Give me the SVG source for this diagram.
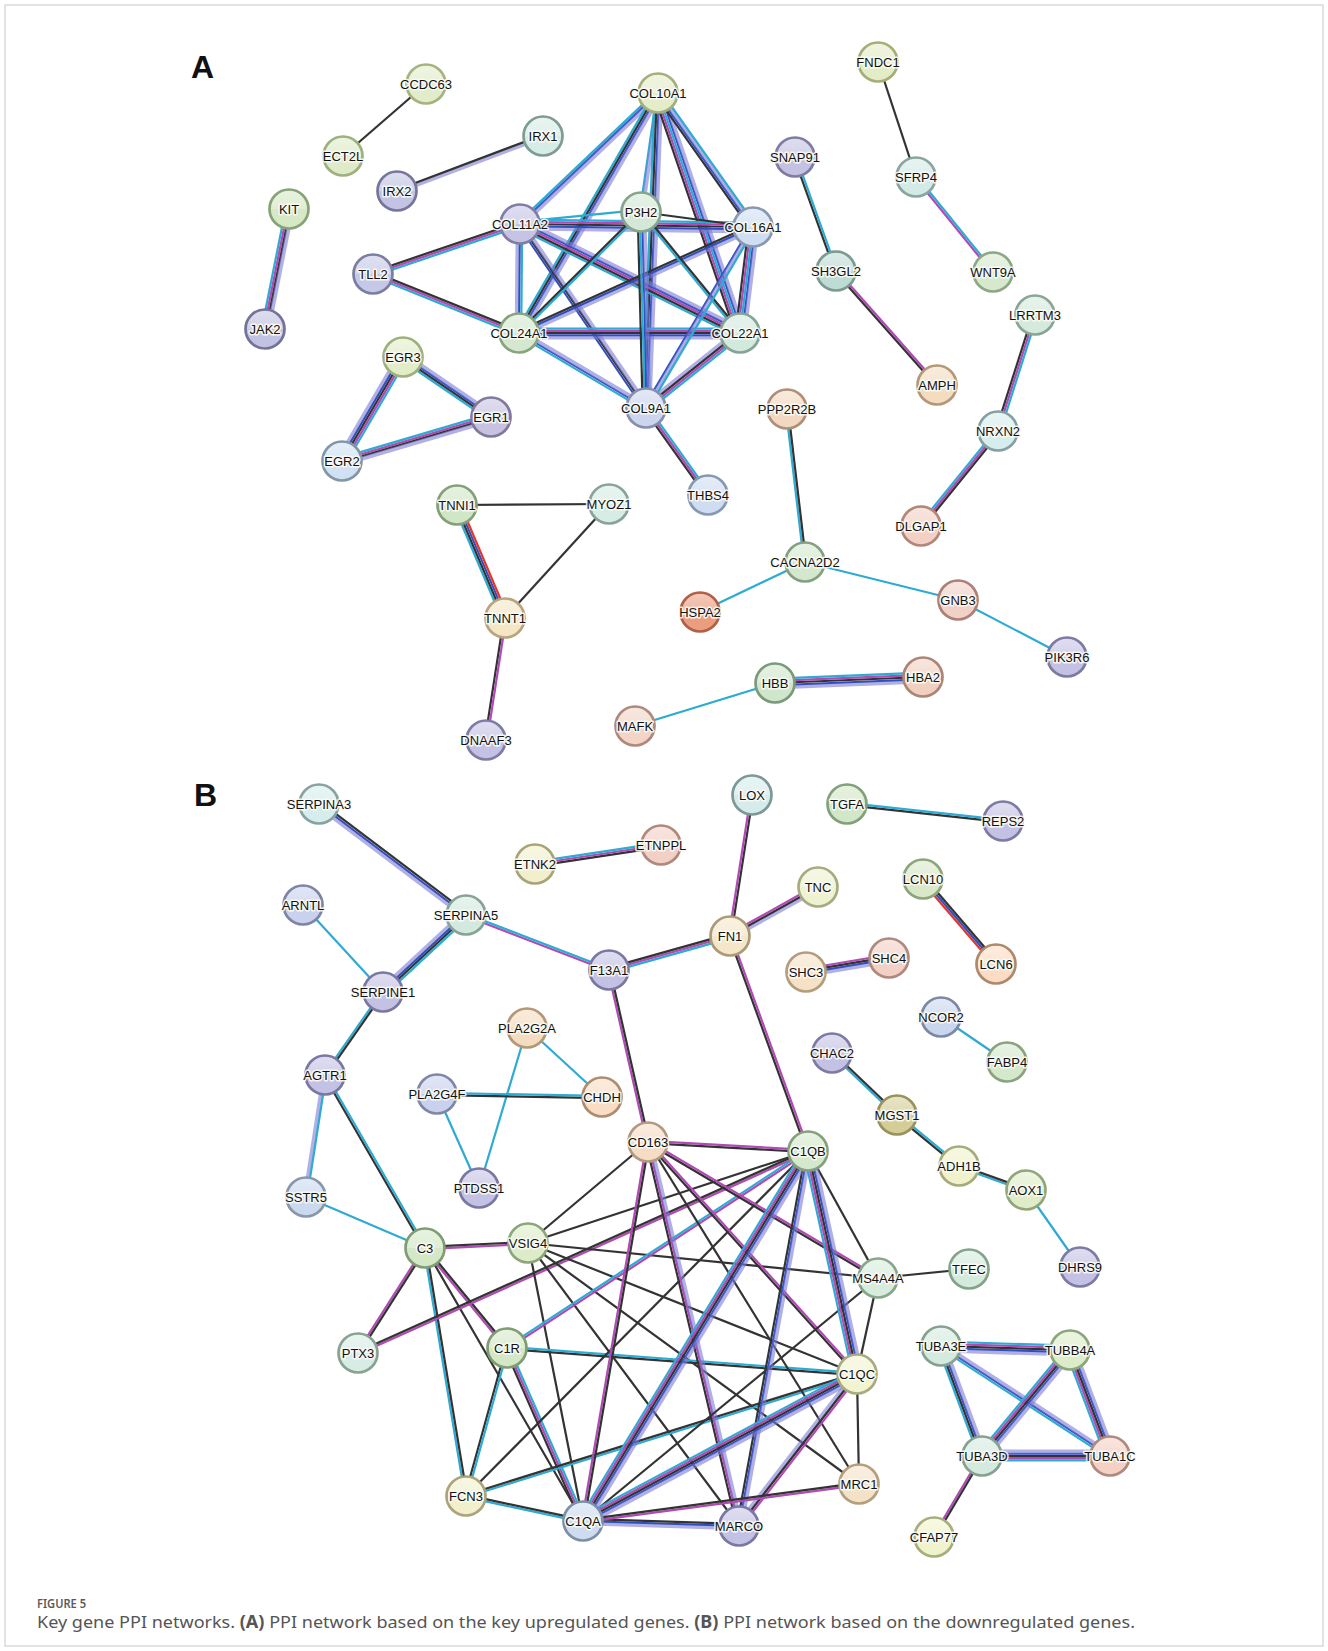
<svg xmlns="http://www.w3.org/2000/svg" width="1328" height="1651" viewBox="0 0 1328 1651">
<defs>
<linearGradient id="sh" x1="0" y1="0" x2="0" y2="1">
<stop offset="0" stop-color="#fff" stop-opacity="0.45"/>
<stop offset="0.5" stop-color="#fff" stop-opacity="0.25"/>
<stop offset="0.5" stop-color="#fff" stop-opacity="0"/>
<stop offset="1" stop-color="#fff" stop-opacity="0"/>
</linearGradient>
<style>
#edges line{fill:none}
.k{stroke:#333;stroke-width:2.2}
.c{stroke:#2eabd2;stroke-width:2.2}
.m{stroke:#b04ab4;stroke-width:2.2}
.b{stroke:#2f4ec0;stroke-width:2}
.l{stroke:#7b7bd4;stroke-width:4.2;stroke-opacity:.6}
.r{stroke:#e8342c;stroke-width:2.2}
.nd circle{stroke-width:2.7}
.nd .sh{fill:url(#sh);stroke:none}
.nd text{font-family:"Liberation Sans",Arial,sans-serif;font-size:13px;text-anchor:middle;fill:#111;stroke:#fbfbf6;stroke-width:3.2px;stroke-linejoin:round;paint-order:stroke;stroke-opacity:.9}
.pl{font-family:"Liberation Sans",Arial,sans-serif;font-size:32px;font-weight:bold;fill:#111}
.cap{font-family:"Noto Sans","Open Sans",sans-serif}
</style>
</defs>
<rect x="0" y="0" width="1328" height="1651" fill="#fff"/>
<rect x="5" y="5" width="1318" height="1641" fill="none" stroke="#c8c8c8" stroke-width="1"/>
<text class="pl" x="191" y="78">A</text>
<text class="pl" x="194" y="806">B</text>

<g id="edges">
<!-- Panel A -->
<line class="k" x1="426" y1="84" x2="343" y2="156"/>
<line class="l" x1="543" y1="136" x2="397" y2="191" transform="translate(0.39,1.03)"/>
<line class="k" x1="543" y1="136" x2="397" y2="191" transform="translate(-0.39,-1.03)"/>
<line class="c" x1="289" y1="209" x2="265" y2="329" transform="translate(-3.24,-0.65)"/>
<line class="m" x1="289" y1="209" x2="265" y2="329" transform="translate(-1.08,-0.22)"/>
<line class="k" x1="289" y1="209" x2="265" y2="329" transform="translate(1.08,0.22)"/>
<line class="l" x1="289" y1="209" x2="265" y2="329" transform="translate(3.24,0.65)"/>
<line class="c" x1="373" y1="274" x2="520" y2="224" transform="translate(0.71,2.08)"/>
<line class="m" x1="373" y1="274" x2="520" y2="224"/>
<line class="k" x1="373" y1="274" x2="520" y2="224" transform="translate(-0.71,-2.08)"/>
<line class="c" x1="373" y1="274" x2="519" y2="333" transform="translate(-0.82,2.04)"/>
<line class="m" x1="373" y1="274" x2="519" y2="333"/>
<line class="k" x1="373" y1="274" x2="519" y2="333" transform="translate(0.82,-2.04)"/>
<!-- collagen cluster -->
<line class="c" x1="658" y1="93" x2="520" y2="224" transform="translate(-1.51,-1.6)"/>
<line class="b" x1="658" y1="93" x2="520" y2="224"/>
<line class="l" x1="658" y1="93" x2="520" y2="224" transform="translate(1.51,1.6)"/>
<line class="c" x1="658" y1="93" x2="519" y2="333" transform="translate(-2.85,-1.65)"/>
<line class="k" x1="658" y1="93" x2="519" y2="333" transform="translate(-0.95,-0.55)"/>
<line class="b" x1="658" y1="93" x2="519" y2="333" transform="translate(0.95,0.55)"/>
<line class="l" x1="658" y1="93" x2="519" y2="333" transform="translate(2.85,1.65)"/>
<line class="c" x1="658" y1="93" x2="641" y2="212" transform="translate(-1.09,-0.16)"/>
<line class="l" x1="658" y1="93" x2="641" y2="212" transform="translate(1.09,0.16)"/>
<line class="c" x1="658" y1="93" x2="646" y2="408" transform="translate(-3.3,-0.12)"/>
<line class="k" x1="658" y1="93" x2="646" y2="408" transform="translate(-1.1,-0.04)"/>
<line class="b" x1="658" y1="93" x2="646" y2="408" transform="translate(1.1,0.04)"/>
<line class="l" x1="658" y1="93" x2="646" y2="408" transform="translate(3.3,0.12)"/>
<line class="k" x1="658" y1="93" x2="740" y2="333" transform="translate(-4.16,1.42)"/>
<line class="m" x1="658" y1="93" x2="740" y2="333" transform="translate(-2.08,0.71)"/>
<line class="c" x1="658" y1="93" x2="740" y2="333"/>
<line class="b" x1="658" y1="93" x2="740" y2="333" transform="translate(2.08,-0.71)"/>
<line class="l" x1="658" y1="93" x2="740" y2="333" transform="translate(4.16,-1.42)"/>
<line class="k" x1="658" y1="93" x2="753" y2="227" transform="translate(-2.69,1.91)"/>
<line class="b" x1="658" y1="93" x2="753" y2="227" transform="translate(-0.9,0.64)"/>
<line class="l" x1="658" y1="93" x2="753" y2="227" transform="translate(0.9,-0.64)"/>
<line class="c" x1="658" y1="93" x2="753" y2="227" transform="translate(2.69,-1.91)"/>
<line class="c" x1="520" y1="224" x2="641" y2="212" transform="translate(-0.2,-2.2)"/>
<line class="l" x1="520" y1="224" x2="753" y2="227" transform="translate(-0.06,4.4)"/>
<line class="b" x1="520" y1="224" x2="753" y2="227" transform="translate(-0.03,2.2)"/>
<line class="k" x1="520" y1="224" x2="753" y2="227"/>
<line class="m" x1="520" y1="224" x2="753" y2="227" transform="translate(0.03,-2.2)"/>
<line class="c" x1="520" y1="224" x2="753" y2="227" transform="translate(0.06,-4.4)"/>
<line class="k" x1="641" y1="212" x2="753" y2="227"/>
<line class="l" x1="520" y1="224" x2="519" y2="333" transform="translate(-2.2,0)"/>
<line class="b" x1="520" y1="224" x2="519" y2="333"/>
<line class="c" x1="520" y1="224" x2="519" y2="333" transform="translate(2.2,0)"/>
<line class="c" x1="520" y1="224" x2="740" y2="333" transform="translate(-1.96,3.94)"/>
<line class="k" x1="520" y1="224" x2="740" y2="333" transform="translate(-0.98,1.97)"/>
<line class="m" x1="520" y1="224" x2="740" y2="333"/>
<line class="b" x1="520" y1="224" x2="740" y2="333" transform="translate(0.98,-1.97)"/>
<line class="l" x1="520" y1="224" x2="740" y2="333" transform="translate(1.96,-3.94)"/>
<line class="b" x1="520" y1="224" x2="646" y2="408" transform="translate(-1.82,1.24)"/>
<line class="k" x1="520" y1="224" x2="646" y2="408"/>
<line class="l" x1="520" y1="224" x2="646" y2="408" transform="translate(1.82,-1.24)"/>
<line class="c" x1="519" y1="333" x2="641" y2="212" transform="translate(0.78,0.78)"/>
<line class="k" x1="519" y1="333" x2="641" y2="212" transform="translate(-0.78,-0.78)"/>
<line class="l" x1="519" y1="333" x2="753" y2="227" transform="translate(0.91,2)"/>
<line class="b" x1="519" y1="333" x2="753" y2="227"/>
<line class="k" x1="519" y1="333" x2="753" y2="227" transform="translate(-0.91,-2)"/>
<line class="l" x1="519" y1="333" x2="740" y2="333" transform="translate(0,4.4)"/>
<line class="b" x1="519" y1="333" x2="740" y2="333" transform="translate(0,2.2)"/>
<line class="k" x1="519" y1="333" x2="740" y2="333"/>
<line class="m" x1="519" y1="333" x2="740" y2="333" transform="translate(0,-2.2)"/>
<line class="c" x1="519" y1="333" x2="740" y2="333" transform="translate(0,-4.4)"/>
<line class="c" x1="519" y1="333" x2="646" y2="408" transform="translate(-1.12,1.89)"/>
<line class="b" x1="519" y1="333" x2="646" y2="408"/>
<line class="l" x1="519" y1="333" x2="646" y2="408" transform="translate(1.12,-1.89)"/>
<line class="k" x1="641" y1="212" x2="646" y2="408" transform="translate(-3.3,0.09)"/>
<line class="c" x1="641" y1="212" x2="646" y2="408" transform="translate(-1.1,0.03)"/>
<line class="b" x1="641" y1="212" x2="646" y2="408" transform="translate(1.1,-0.03)"/>
<line class="l" x1="641" y1="212" x2="646" y2="408" transform="translate(3.3,-0.09)"/>
<line class="c" x1="641" y1="212" x2="740" y2="333" transform="translate(-0.85,0.7)"/>
<line class="k" x1="641" y1="212" x2="740" y2="333" transform="translate(0.85,-0.7)"/>
<line class="k" x1="753" y1="227" x2="740" y2="333" transform="translate(-4.36,-0.54)"/>
<line class="m" x1="753" y1="227" x2="740" y2="333" transform="translate(-2.18,-0.27)"/>
<line class="c" x1="753" y1="227" x2="740" y2="333"/>
<line class="b" x1="753" y1="227" x2="740" y2="333" transform="translate(2.18,0.27)"/>
<line class="l" x1="753" y1="227" x2="740" y2="333" transform="translate(4.36,0.54)"/>
<line class="b" x1="753" y1="227" x2="646" y2="408" transform="translate(-1.89,-1.12)"/>
<line class="l" x1="753" y1="227" x2="646" y2="408"/>
<line class="c" x1="753" y1="227" x2="646" y2="408" transform="translate(1.89,1.12)"/>
<line class="l" x1="740" y1="333" x2="646" y2="408" transform="translate(-2.06,-2.58)"/>
<line class="k" x1="740" y1="333" x2="646" y2="408" transform="translate(-0.69,-0.86)"/>
<line class="m" x1="740" y1="333" x2="646" y2="408" transform="translate(0.69,0.86)"/>
<line class="c" x1="740" y1="333" x2="646" y2="408" transform="translate(2.06,2.58)"/>
<line class="k" x1="646" y1="408" x2="708" y2="495" transform="translate(-1.79,1.28)"/>
<line class="m" x1="646" y1="408" x2="708" y2="495"/>
<line class="c" x1="646" y1="408" x2="708" y2="495" transform="translate(1.79,-1.28)"/>
<!-- right side A -->
<line class="k" x1="878" y1="62" x2="916" y2="177"/>
<line class="m" x1="916" y1="177" x2="993" y2="272" transform="translate(-0.85,0.69)"/>
<line class="c" x1="916" y1="177" x2="993" y2="272" transform="translate(0.85,-0.69)"/>
<line class="k" x1="795" y1="157" x2="836" y2="271" transform="translate(-1.04,0.37)"/>
<line class="c" x1="795" y1="157" x2="836" y2="271" transform="translate(1.04,-0.37)"/>
<line class="k" x1="836" y1="271" x2="937" y2="385" transform="translate(-0.82,0.73)"/>
<line class="m" x1="836" y1="271" x2="937" y2="385" transform="translate(0.82,-0.73)"/>
<line class="k" x1="1035" y1="315" x2="998" y2="431" transform="translate(-2.1,-0.67)"/>
<line class="m" x1="1035" y1="315" x2="998" y2="431"/>
<line class="c" x1="1035" y1="315" x2="998" y2="431" transform="translate(2.1,0.67)"/>
<line class="c" x1="998" y1="431" x2="921" y2="526" transform="translate(-1.71,-1.39)"/>
<line class="m" x1="998" y1="431" x2="921" y2="526"/>
<line class="k" x1="998" y1="431" x2="921" y2="526" transform="translate(1.71,1.39)"/>
<line class="c" x1="787" y1="409" x2="805" y2="562" transform="translate(-1.09,0.13)"/>
<line class="k" x1="787" y1="409" x2="805" y2="562" transform="translate(1.09,-0.13)"/>
<!-- EGR -->
<line class="c" x1="403" y1="357" x2="491" y2="417" transform="translate(-1.86,2.73)"/>
<line class="k" x1="403" y1="357" x2="491" y2="417" transform="translate(-0.62,0.91)"/>
<line class="b" x1="403" y1="357" x2="491" y2="417" transform="translate(0.62,-0.91)"/>
<line class="l" x1="403" y1="357" x2="491" y2="417" transform="translate(1.86,-2.73)"/>
<line class="l" x1="403" y1="357" x2="342" y2="461" transform="translate(-3.8,-2.22)"/>
<line class="b" x1="403" y1="357" x2="342" y2="461" transform="translate(-1.9,-1.11)"/>
<line class="k" x1="403" y1="357" x2="342" y2="461"/>
<line class="m" x1="403" y1="357" x2="342" y2="461" transform="translate(1.9,1.11)"/>
<line class="c" x1="403" y1="357" x2="342" y2="461" transform="translate(3.8,2.22)"/>
<line class="c" x1="491" y1="417" x2="342" y2="461" transform="translate(-0.93,-3.17)"/>
<line class="m" x1="491" y1="417" x2="342" y2="461" transform="translate(-0.31,-1.06)"/>
<line class="k" x1="491" y1="417" x2="342" y2="461" transform="translate(0.31,1.06)"/>
<line class="l" x1="491" y1="417" x2="342" y2="461" transform="translate(0.93,3.17)"/>
<!-- TNN -->
<line class="k" x1="457" y1="505" x2="609" y2="504"/>
<line class="c" x1="457" y1="505" x2="505" y2="618" transform="translate(-3.03,1.29)"/>
<line class="k" x1="457" y1="505" x2="505" y2="618" transform="translate(-1.01,0.43)"/>
<line class="b" x1="457" y1="505" x2="505" y2="618" transform="translate(1.01,-0.43)"/>
<line class="r" x1="457" y1="505" x2="505" y2="618" transform="translate(3.03,-1.29)"/>
<line class="k" x1="609" y1="504" x2="505" y2="618"/>
<line class="k" x1="505" y1="618" x2="486" y2="740" transform="translate(-1.09,-0.17)"/>
<line class="m" x1="505" y1="618" x2="486" y2="740" transform="translate(1.09,0.17)"/>
<!-- CACNA2D2 etc -->
<line class="c" x1="805" y1="562" x2="700" y2="612"/>
<line class="c" x1="805" y1="562" x2="958" y2="600"/>
<line class="c" x1="958" y1="600" x2="1067" y2="657"/>
<line class="l" x1="775" y1="683" x2="923" y2="677" transform="translate(0.18,4.4)"/>
<line class="b" x1="775" y1="683" x2="923" y2="677" transform="translate(0.09,2.2)"/>
<line class="k" x1="775" y1="683" x2="923" y2="677"/>
<line class="m" x1="775" y1="683" x2="923" y2="677" transform="translate(-0.09,-2.2)"/>
<line class="c" x1="775" y1="683" x2="923" y2="677" transform="translate(-0.18,-4.4)"/>
<line class="c" x1="635" y1="726" x2="775" y2="683"/>

<!-- Panel B -->
<line class="l" x1="319" y1="804" x2="466" y2="915" transform="translate(-1.33,1.76)"/>
<line class="b" x1="319" y1="804" x2="466" y2="915"/>
<line class="k" x1="319" y1="804" x2="466" y2="915" transform="translate(1.33,-1.76)"/>
<line class="k" x1="535" y1="864" x2="661" y2="845" transform="translate(0.33,2.18)"/>
<line class="m" x1="535" y1="864" x2="661" y2="845"/>
<line class="c" x1="535" y1="864" x2="661" y2="845" transform="translate(-0.33,-2.18)"/>
<line class="c" x1="303" y1="905" x2="383" y2="992"/>
<line class="l" x1="466" y1="915" x2="383" y2="992" transform="translate(-2.25,-2.42)"/>
<line class="b" x1="466" y1="915" x2="383" y2="992" transform="translate(-0.75,-0.81)"/>
<line class="k" x1="466" y1="915" x2="383" y2="992" transform="translate(0.75,0.81)"/>
<line class="c" x1="466" y1="915" x2="383" y2="992" transform="translate(2.25,2.42)"/>
<line class="m" x1="466" y1="915" x2="609" y2="970" transform="translate(-0.4,1.03)"/>
<line class="c" x1="466" y1="915" x2="609" y2="970" transform="translate(0.4,-1.03)"/>
<line class="c" x1="609" y1="970" x2="730" y2="936" transform="translate(0.59,2.12)"/>
<line class="m" x1="609" y1="970" x2="730" y2="936"/>
<line class="k" x1="609" y1="970" x2="730" y2="936" transform="translate(-0.59,-2.12)"/>
<line class="k" x1="730" y1="936" x2="752" y2="795" transform="translate(1.09,0.17)"/>
<line class="m" x1="730" y1="936" x2="752" y2="795" transform="translate(-1.09,-0.17)"/>
<line class="l" x1="730" y1="936" x2="818" y2="887" transform="translate(1.07,1.92)"/>
<line class="k" x1="730" y1="936" x2="818" y2="887"/>
<line class="m" x1="730" y1="936" x2="818" y2="887" transform="translate(-1.07,-1.92)"/>
<line class="k" x1="730" y1="936" x2="808" y2="1151" transform="translate(-1.03,0.37)"/>
<line class="m" x1="730" y1="936" x2="808" y2="1151" transform="translate(1.03,-0.37)"/>
<line class="m" x1="609" y1="970" x2="648" y2="1142" transform="translate(-1.07,0.24)"/>
<line class="k" x1="609" y1="970" x2="648" y2="1142" transform="translate(1.07,-0.24)"/>
<line class="k" x1="847" y1="804" x2="1003" y2="821" transform="translate(-0.12,1.09)"/>
<line class="c" x1="847" y1="804" x2="1003" y2="821" transform="translate(0.12,-1.09)"/>
<line class="r" x1="923" y1="879" x2="996" y2="964" transform="translate(-1.67,1.43)"/>
<line class="b" x1="923" y1="879" x2="996" y2="964"/>
<line class="k" x1="923" y1="879" x2="996" y2="964" transform="translate(1.67,-1.43)"/>
<line class="l" x1="806" y1="972" x2="889" y2="958" transform="translate(0.55,3.26)"/>
<line class="b" x1="806" y1="972" x2="889" y2="958" transform="translate(0.18,1.09)"/>
<line class="k" x1="806" y1="972" x2="889" y2="958" transform="translate(-0.18,-1.09)"/>
<line class="m" x1="806" y1="972" x2="889" y2="958" transform="translate(-0.55,-3.26)"/>
<line class="c" x1="941" y1="1017" x2="1007" y2="1062"/>
<line class="c" x1="832" y1="1053" x2="897" y2="1115" transform="translate(-0.76,0.8)"/>
<line class="k" x1="832" y1="1053" x2="897" y2="1115" transform="translate(0.76,-0.8)"/>
<line class="k" x1="897" y1="1115" x2="959" y2="1166" transform="translate(-0.7,0.85)"/>
<line class="c" x1="897" y1="1115" x2="959" y2="1166" transform="translate(0.7,-0.85)"/>
<line class="c" x1="959" y1="1166" x2="1026" y2="1190" transform="translate(-0.37,1.04)"/>
<line class="k" x1="959" y1="1166" x2="1026" y2="1190" transform="translate(0.37,-1.04)"/>
<line class="c" x1="1026" y1="1190" x2="1080" y2="1267"/>
<line class="c" x1="383" y1="992" x2="325" y2="1075" transform="translate(-0.9,-0.63)"/>
<line class="k" x1="383" y1="992" x2="325" y2="1075" transform="translate(0.9,0.63)"/>
<line class="l" x1="325" y1="1075" x2="306" y2="1197" transform="translate(-1.09,-0.17)"/>
<line class="c" x1="325" y1="1075" x2="306" y2="1197" transform="translate(1.09,0.17)"/>
<line class="k" x1="325" y1="1075" x2="425" y2="1248" transform="translate(-0.95,0.55)"/>
<line class="c" x1="325" y1="1075" x2="425" y2="1248" transform="translate(0.95,-0.55)"/>
<line class="c" x1="306" y1="1197" x2="425" y2="1248"/>
<line class="c" x1="527" y1="1028" x2="602" y2="1097"/>
<line class="c" x1="527" y1="1028" x2="479" y2="1188"/>
<line class="k" x1="437" y1="1094" x2="602" y2="1097" transform="translate(0,1.1)"/>
<line class="c" x1="437" y1="1094" x2="602" y2="1097" transform="translate(0,-1.1)"/>
<line class="c" x1="437" y1="1094" x2="479" y2="1188"/>
<!-- complement cluster -->
<line class="m" x1="425" y1="1248" x2="528" y2="1243" transform="translate(0.05,1.1)"/>
<line class="k" x1="425" y1="1248" x2="528" y2="1243" transform="translate(-0.05,-1.1)"/>
<line class="m" x1="425" y1="1248" x2="358" y2="1353" transform="translate(-0.93,-0.59)"/>
<line class="k" x1="425" y1="1248" x2="358" y2="1353" transform="translate(0.93,0.59)"/>
<line class="m" x1="425" y1="1248" x2="507" y2="1348" transform="translate(-0.85,0.7)"/>
<line class="k" x1="425" y1="1248" x2="507" y2="1348" transform="translate(0.85,-0.7)"/>
<line class="c" x1="425" y1="1248" x2="466" y2="1496" transform="translate(-1.09,0.18)"/>
<line class="k" x1="425" y1="1248" x2="466" y2="1496" transform="translate(1.09,-0.18)"/>
<line class="k" x1="425" y1="1248" x2="583" y2="1521"/>
<line class="m" x1="358" y1="1353" x2="808" y2="1151" transform="translate(0.45,1)"/>
<line class="k" x1="358" y1="1353" x2="808" y2="1151" transform="translate(-0.45,-1)"/>
<line class="k" x1="528" y1="1243" x2="648" y2="1142"/>
<line class="k" x1="528" y1="1243" x2="808" y2="1151"/>
<line class="k" x1="528" y1="1243" x2="878" y2="1278"/>
<line class="k" x1="528" y1="1243" x2="857" y2="1374"/>
<line class="k" x1="528" y1="1243" x2="859" y2="1484"/>
<line class="k" x1="528" y1="1243" x2="739" y2="1526"/>
<line class="k" x1="528" y1="1243" x2="583" y2="1521"/>
<line class="m" x1="507" y1="1348" x2="808" y2="1151" transform="translate(0.6,0.92)"/>
<line class="c" x1="507" y1="1348" x2="808" y2="1151" transform="translate(-0.6,-0.92)"/>
<line class="k" x1="507" y1="1348" x2="857" y2="1374" transform="translate(-0.08,1.1)"/>
<line class="c" x1="507" y1="1348" x2="857" y2="1374" transform="translate(0.08,-1.1)"/>
<line class="k" x1="507" y1="1348" x2="466" y2="1496" transform="translate(-1.06,-0.29)"/>
<line class="c" x1="507" y1="1348" x2="466" y2="1496" transform="translate(1.06,0.29)"/>
<line class="k" x1="507" y1="1348" x2="583" y2="1521" transform="translate(-2.01,0.88)"/>
<line class="m" x1="507" y1="1348" x2="583" y2="1521"/>
<line class="c" x1="507" y1="1348" x2="583" y2="1521" transform="translate(2.01,-0.88)"/>
<line class="c" x1="466" y1="1496" x2="583" y2="1521" transform="translate(-0.23,1.08)"/>
<line class="k" x1="466" y1="1496" x2="583" y2="1521" transform="translate(0.23,-1.08)"/>
<line class="k" x1="466" y1="1496" x2="808" y2="1151"/>
<line class="c" x1="466" y1="1496" x2="857" y2="1374" transform="translate(0.33,1.05)"/>
<line class="k" x1="466" y1="1496" x2="857" y2="1374" transform="translate(-0.33,-1.05)"/>
<line class="k" x1="648" y1="1142" x2="808" y2="1151" transform="translate(-0.06,1.1)"/>
<line class="m" x1="648" y1="1142" x2="808" y2="1151" transform="translate(0.06,-1.1)"/>
<line class="k" x1="648" y1="1142" x2="878" y2="1278" transform="translate(-0.56,0.95)"/>
<line class="m" x1="648" y1="1142" x2="878" y2="1278" transform="translate(0.56,-0.95)"/>
<line class="k" x1="648" y1="1142" x2="857" y2="1374" transform="translate(-0.82,0.74)"/>
<line class="m" x1="648" y1="1142" x2="857" y2="1374" transform="translate(0.82,-0.74)"/>
<line class="k" x1="648" y1="1142" x2="859" y2="1484"/>
<line class="k" x1="648" y1="1142" x2="739" y2="1526" transform="translate(-2.14,0.51)"/>
<line class="m" x1="648" y1="1142" x2="739" y2="1526"/>
<line class="l" x1="648" y1="1142" x2="739" y2="1526" transform="translate(2.14,-0.51)"/>
<line class="m" x1="648" y1="1142" x2="583" y2="1521" transform="translate(-1.09,-0.19)"/>
<line class="k" x1="648" y1="1142" x2="583" y2="1521" transform="translate(1.09,0.19)"/>
<line class="k" x1="878" y1="1278" x2="808" y2="1151"/>
<line class="k" x1="878" y1="1278" x2="969" y2="1269"/>
<line class="k" x1="878" y1="1278" x2="857" y2="1374"/>
<line class="k" x1="878" y1="1278" x2="583" y2="1521"/>
<line class="c" x1="808" y1="1151" x2="857" y2="1374" transform="translate(-4.3,0.94)"/>
<line class="m" x1="808" y1="1151" x2="857" y2="1374" transform="translate(-2.15,0.47)"/>
<line class="k" x1="808" y1="1151" x2="857" y2="1374"/>
<line class="b" x1="808" y1="1151" x2="857" y2="1374" transform="translate(2.15,-0.47)"/>
<line class="l" x1="808" y1="1151" x2="857" y2="1374" transform="translate(4.3,-0.94)"/>
<line class="k" x1="808" y1="1151" x2="739" y2="1526" transform="translate(-2.16,-0.4)"/>
<line class="b" x1="808" y1="1151" x2="739" y2="1526"/>
<line class="l" x1="808" y1="1151" x2="739" y2="1526" transform="translate(2.16,0.4)"/>
<line class="c" x1="808" y1="1151" x2="583" y2="1521" transform="translate(-3.76,-2.28)"/>
<line class="m" x1="808" y1="1151" x2="583" y2="1521" transform="translate(-1.88,-1.14)"/>
<line class="k" x1="808" y1="1151" x2="583" y2="1521"/>
<line class="b" x1="808" y1="1151" x2="583" y2="1521" transform="translate(1.88,1.14)"/>
<line class="l" x1="808" y1="1151" x2="583" y2="1521" transform="translate(3.76,2.28)"/>
<line class="k" x1="857" y1="1374" x2="859" y2="1484"/>
<line class="l" x1="857" y1="1374" x2="739" y2="1526" transform="translate(-1.74,-1.35)"/>
<line class="k" x1="857" y1="1374" x2="739" y2="1526"/>
<line class="m" x1="857" y1="1374" x2="739" y2="1526" transform="translate(1.74,1.35)"/>
<line class="c" x1="857" y1="1374" x2="583" y2="1521" transform="translate(-2.08,-3.88)"/>
<line class="m" x1="857" y1="1374" x2="583" y2="1521" transform="translate(-1.04,-1.94)"/>
<line class="k" x1="857" y1="1374" x2="583" y2="1521"/>
<line class="b" x1="857" y1="1374" x2="583" y2="1521" transform="translate(1.04,1.94)"/>
<line class="l" x1="857" y1="1374" x2="583" y2="1521" transform="translate(2.08,3.88)"/>
<line class="l" x1="583" y1="1521" x2="739" y2="1526" transform="translate(-0.07,2.2)"/>
<line class="b" x1="583" y1="1521" x2="739" y2="1526"/>
<line class="k" x1="583" y1="1521" x2="739" y2="1526" transform="translate(0.07,-2.2)"/>
<line class="m" x1="583" y1="1521" x2="859" y2="1484" transform="translate(0.15,1.09)"/>
<line class="k" x1="583" y1="1521" x2="859" y2="1484" transform="translate(-0.15,-1.09)"/>
<!-- tubulin -->
<line class="l" x1="941" y1="1346" x2="1070" y2="1350" transform="translate(-0.14,4.4)"/>
<line class="b" x1="941" y1="1346" x2="1070" y2="1350" transform="translate(-0.07,2.2)"/>
<line class="k" x1="941" y1="1346" x2="1070" y2="1350"/>
<line class="m" x1="941" y1="1346" x2="1070" y2="1350" transform="translate(0.07,-2.2)"/>
<line class="c" x1="941" y1="1346" x2="1070" y2="1350" transform="translate(0.14,-4.4)"/>
<line class="c" x1="941" y1="1346" x2="982" y2="1456" transform="translate(-3.09,1.16)"/>
<line class="k" x1="941" y1="1346" x2="982" y2="1456" transform="translate(-1.03,0.39)"/>
<line class="b" x1="941" y1="1346" x2="982" y2="1456" transform="translate(1.03,-0.39)"/>
<line class="l" x1="941" y1="1346" x2="982" y2="1456" transform="translate(3.09,-1.16)"/>
<line class="c" x1="941" y1="1346" x2="1110" y2="1456" transform="translate(-1.2,1.84)"/>
<line class="b" x1="941" y1="1346" x2="1110" y2="1456"/>
<line class="l" x1="941" y1="1346" x2="1110" y2="1456" transform="translate(1.2,-1.84)"/>
<line class="c" x1="1070" y1="1350" x2="982" y2="1456" transform="translate(-3.38,-2.82)"/>
<line class="m" x1="1070" y1="1350" x2="982" y2="1456" transform="translate(-1.69,-1.41)"/>
<line class="k" x1="1070" y1="1350" x2="982" y2="1456"/>
<line class="b" x1="1070" y1="1350" x2="982" y2="1456" transform="translate(1.69,1.41)"/>
<line class="l" x1="1070" y1="1350" x2="982" y2="1456" transform="translate(3.38,2.82)"/>
<line class="c" x1="1070" y1="1350" x2="1110" y2="1456" transform="translate(-4.12,1.56)"/>
<line class="m" x1="1070" y1="1350" x2="1110" y2="1456" transform="translate(-2.06,0.78)"/>
<line class="k" x1="1070" y1="1350" x2="1110" y2="1456"/>
<line class="b" x1="1070" y1="1350" x2="1110" y2="1456" transform="translate(2.06,-0.78)"/>
<line class="l" x1="1070" y1="1350" x2="1110" y2="1456" transform="translate(4.12,-1.56)"/>
<line class="c" x1="982" y1="1456" x2="1110" y2="1456" transform="translate(0,4.4)"/>
<line class="m" x1="982" y1="1456" x2="1110" y2="1456" transform="translate(0,2.2)"/>
<line class="k" x1="982" y1="1456" x2="1110" y2="1456"/>
<line class="b" x1="982" y1="1456" x2="1110" y2="1456" transform="translate(0,-2.2)"/>
<line class="l" x1="982" y1="1456" x2="1110" y2="1456" transform="translate(0,-4.4)"/>
<line class="m" x1="982" y1="1456" x2="934" y2="1537" transform="translate(-0.95,-0.56)"/>
<line class="k" x1="982" y1="1456" x2="934" y2="1537" transform="translate(0.95,0.56)"/>
</g>

<g id="nodes">
<!-- Panel A -->
<g id="n-CCDC63" class="nd" transform="translate(426 84)"><circle r="19.5" fill="#e2ecca" stroke="#a5b37f"/><circle class="sh" r="18"/><text y="4.6">CCDC63</text></g>
<g id="n-ECT2L" class="nd" transform="translate(343 156)"><circle r="19.5" fill="#dfeac8" stroke="#9db07e"/><circle class="sh" r="18"/><text y="4.6">ECT2L</text></g>
<g id="n-IRX1" class="nd" transform="translate(543 136)"><circle r="19.5" fill="#d6ece6" stroke="#7f9c92"/><circle class="sh" r="18"/><text y="4.6">IRX1</text></g>
<g id="n-IRX2" class="nd" transform="translate(397 191)"><circle r="19.5" fill="#c3c3e3" stroke="#76769c"/><circle class="sh" r="18"/><text y="4.6">IRX2</text></g>
<g id="n-KIT" class="nd" transform="translate(289 209)"><circle r="19.5" fill="#d6e8c6" stroke="#87a277"/><circle class="sh" r="18"/><text y="4.6">KIT</text></g>
<g id="n-JAK2" class="nd" transform="translate(265 329)"><circle r="19.5" fill="#c2c2e2" stroke="#737399"/><circle class="sh" r="18"/><text y="4.6">JAK2</text></g>
<g id="n-TLL2" class="nd" transform="translate(373 274)"><circle r="19.5" fill="#c5c8e6" stroke="#7a7ea2"/><circle class="sh" r="18"/><text y="4.6">TLL2</text></g>
<g id="n-COL11A2" class="nd" transform="translate(520 224)"><circle r="19.5" fill="#c6c4e4" stroke="#807ea6"/><circle class="sh" r="18"/><text y="4.6">COL11A2</text></g>
<g id="n-COL24A1" class="nd" transform="translate(519 333)"><circle r="19.5" fill="#d3e8cf" stroke="#88a47e"/><circle class="sh" r="18"/><text y="4.6">COL24A1</text></g>
<g id="n-COL10A1" class="nd" transform="translate(658 93)"><circle r="19.5" fill="#e4ecc9" stroke="#a5af7b"/><circle class="sh" r="18"/><text y="4.6">COL10A1</text></g>
<g id="n-P3H2" class="nd" transform="translate(641 212)"><circle r="19.5" fill="#d3e8d6" stroke="#86a38b"/><circle class="sh" r="18"/><text y="4.6">P3H2</text></g>
<g id="n-COL16A1" class="nd" transform="translate(753 227)"><circle r="19.5" fill="#cfdef2" stroke="#8897b2"/><circle class="sh" r="18"/><text y="4.6">COL16A1</text></g>
<g id="n-COL22A1" class="nd" transform="translate(740 333)"><circle r="19.5" fill="#d2e9dd" stroke="#86a493"/><circle class="sh" r="18"/><text y="4.6">COL22A1</text></g>
<g id="n-COL9A1" class="nd" transform="translate(646 408)"><circle r="19.5" fill="#cdd5ee" stroke="#8590ae"/><circle class="sh" r="18"/><text y="4.6">COL9A1</text></g>
<g id="n-FNDC1" class="nd" transform="translate(878 62)"><circle r="19.5" fill="#e4ecc6" stroke="#a4ae78"/><circle class="sh" r="18"/><text y="4.6">FNDC1</text></g>
<g id="n-SNAP91" class="nd" transform="translate(795 157)"><circle r="19.5" fill="#c4c2e2" stroke="#7f7ca4"/><circle class="sh" r="18"/><text y="4.6">SNAP91</text></g>
<g id="n-SFRP4" class="nd" transform="translate(916 177)"><circle r="19.5" fill="#d3eae6" stroke="#8aa49f"/><circle class="sh" r="18"/><text y="4.6">SFRP4</text></g>
<g id="n-SH3GL2" class="nd" transform="translate(836 271)"><circle r="19.5" fill="#bedcd4" stroke="#7b9a90"/><circle class="sh" r="18"/><text y="4.6">SH3GL2</text></g>
<g id="n-WNT9A" class="nd" transform="translate(993 272)"><circle r="19.5" fill="#d6e9cd" stroke="#8ea784"/><circle class="sh" r="18"/><text y="4.6">WNT9A</text></g>
<g id="n-LRRTM3" class="nd" transform="translate(1035 315)"><circle r="19.5" fill="#d4eadd" stroke="#8aa596"/><circle class="sh" r="18"/><text y="4.6">LRRTM3</text></g>
<g id="n-AMPH" class="nd" transform="translate(937 385)"><circle r="19.5" fill="#f4dcc0" stroke="#b59877"/><circle class="sh" r="18"/><text y="4.6">AMPH</text></g>
<g id="n-NRXN2" class="nd" transform="translate(998 431)"><circle r="19.5" fill="#d6eded" stroke="#84a0a2"/><circle class="sh" r="18"/><text y="4.6">NRXN2</text></g>
<g id="n-PPP2R2B" class="nd" transform="translate(787 409)"><circle r="19.5" fill="#f2d8c0" stroke="#ae8f78"/><circle class="sh" r="18"/><text y="4.6">PPP2R2B</text></g>
<g id="n-EGR3" class="nd" transform="translate(403 357)"><circle r="19.5" fill="#e2ecc8" stroke="#9fb07d"/><circle class="sh" r="18"/><text y="4.6">EGR3</text></g>
<g id="n-EGR1" class="nd" transform="translate(491 417)"><circle r="19.5" fill="#c8c2e2" stroke="#82789d"/><circle class="sh" r="18"/><text y="4.6">EGR1</text></g>
<g id="n-EGR2" class="nd" transform="translate(342 461)"><circle r="19.5" fill="#cfe1f2" stroke="#8396a8"/><circle class="sh" r="18"/><text y="4.6">EGR2</text></g>
<g id="n-TNNI1" class="nd" transform="translate(457 505)"><circle r="19.5" fill="#d1e6c7" stroke="#84a078"/><circle class="sh" r="18"/><text y="4.6">TNNI1</text></g>
<g id="n-MYOZ1" class="nd" transform="translate(609 504)"><circle r="19.5" fill="#d6ece4" stroke="#89a399"/><circle class="sh" r="18"/><text y="4.6">MYOZ1</text></g>
<g id="n-TNNT1" class="nd" transform="translate(505 618)"><circle r="19.5" fill="#f5e6c6" stroke="#b8a47e"/><circle class="sh" r="18"/><text y="4.6">TNNT1</text></g>
<g id="n-DNAAF3" class="nd" transform="translate(486 740)"><circle r="19.5" fill="#c4c2e4" stroke="#7e7ca4"/><circle class="sh" r="18"/><text y="4.6">DNAAF3</text></g>
<g id="n-THBS4" class="nd" transform="translate(708 495)"><circle r="19.5" fill="#cfdcf2" stroke="#8898b0"/><circle class="sh" r="18"/><text y="4.6">THBS4</text></g>
<g id="n-DLGAP1" class="nd" transform="translate(921 526)"><circle r="19.5" fill="#f2d0c4" stroke="#b2877a"/><circle class="sh" r="18"/><text y="4.6">DLGAP1</text></g>
<g id="n-CACNA2D2" class="nd" transform="translate(805 562)"><circle r="19.5" fill="#d4e8d0" stroke="#84a080"/><circle class="sh" r="18"/><text y="4.6">CACNA2D2</text></g>
<g id="n-HSPA2" class="nd" transform="translate(700 612)"><circle r="19.5" fill="#eb9d80" stroke="#b05f48"/><circle class="sh" r="18"/><text y="4.6">HSPA2</text></g>
<g id="n-GNB3" class="nd" transform="translate(958 600)"><circle r="19.5" fill="#f1d0c6" stroke="#aa8078"/><circle class="sh" r="18"/><text y="4.6">GNB3</text></g>
<g id="n-PIK3R6" class="nd" transform="translate(1067 657)"><circle r="19.5" fill="#c4c2e4" stroke="#7c7aa2"/><circle class="sh" r="18"/><text y="4.6">PIK3R6</text></g>
<g id="n-HBB" class="nd" transform="translate(775 683)"><circle r="19.5" fill="#d0e6cc" stroke="#7b9a7a"/><circle class="sh" r="18"/><text y="4.6">HBB</text></g>
<g id="n-HBA2" class="nd" transform="translate(923 677)"><circle r="19.5" fill="#f1d0c2" stroke="#ab8576"/><circle class="sh" r="18"/><text y="4.6">HBA2</text></g>
<g id="n-MAFK" class="nd" transform="translate(635 726)"><circle r="19.5" fill="#f2d5c6" stroke="#ad8a7b"/><circle class="sh" r="18"/><text y="4.6">MAFK</text></g>
<!-- Panel B -->
<g id="n-SERPINA3" class="nd" transform="translate(319 804)"><circle r="19.5" fill="#d6eded" stroke="#87a3a0"/><circle class="sh" r="18"/><text y="4.6">SERPINA3</text></g>
<g id="n-ETNK2" class="nd" transform="translate(535 864)"><circle r="19.5" fill="#f2f0cc" stroke="#a8a479"/><circle class="sh" r="18"/><text y="4.6">ETNK2</text></g>
<g id="n-ETNPPL" class="nd" transform="translate(661 845)"><circle r="19.5" fill="#f2d0c5" stroke="#b0897d"/><circle class="sh" r="18"/><text y="4.6">ETNPPL</text></g>
<g id="n-ARNTL" class="nd" transform="translate(303 905)"><circle r="19.5" fill="#c9d1ee" stroke="#7d85a5"/><circle class="sh" r="18"/><text y="4.6">ARNTL</text></g>
<g id="n-SERPINA5" class="nd" transform="translate(466 915)"><circle r="19.5" fill="#d3e9e0" stroke="#87a395"/><circle class="sh" r="18"/><text y="4.6">SERPINA5</text></g>
<g id="n-SERPINE1" class="nd" transform="translate(383 992)"><circle r="19.5" fill="#c4c2e4" stroke="#7a78a2"/><circle class="sh" r="18"/><text y="4.6">SERPINE1</text></g>
<g id="n-F13A1" class="nd" transform="translate(609 970)"><circle r="19.5" fill="#c4c2e4" stroke="#7a78a2"/><circle class="sh" r="18"/><text y="4.6">F13A1</text></g>
<g id="n-FN1" class="nd" transform="translate(730 936)"><circle r="19.5" fill="#f5e6c9" stroke="#aa9a77"/><circle class="sh" r="18"/><text y="4.6">FN1</text></g>
<g id="n-LOX" class="nd" transform="translate(752 795)"><circle r="19.5" fill="#d6ecec" stroke="#7d9997"/><circle class="sh" r="18"/><text y="4.6">LOX</text></g>
<g id="n-TGFA" class="nd" transform="translate(847 804)"><circle r="19.5" fill="#d2e6c8" stroke="#82a079"/><circle class="sh" r="18"/><text y="4.6">TGFA</text></g>
<g id="n-REPS2" class="nd" transform="translate(1003 821)"><circle r="19.5" fill="#c4c2e4" stroke="#7d7ba3"/><circle class="sh" r="18"/><text y="4.6">REPS2</text></g>
<g id="n-TNC" class="nd" transform="translate(818 887)"><circle r="19.5" fill="#eef2d0" stroke="#a7ab80"/><circle class="sh" r="18"/><text y="4.6">TNC</text></g>
<g id="n-LCN10" class="nd" transform="translate(923 879)"><circle r="19.5" fill="#d8e8c8" stroke="#8da47c"/><circle class="sh" r="18"/><text y="4.6">LCN10</text></g>
<g id="n-LCN6" class="nd" transform="translate(996 964)"><circle r="19.5" fill="#fcdcc4" stroke="#ae896b"/><circle class="sh" r="18"/><text y="4.6">LCN6</text></g>
<g id="n-SHC3" class="nd" transform="translate(806 972)"><circle r="19.5" fill="#f5e2c6" stroke="#b39d7c"/><circle class="sh" r="18"/><text y="4.6">SHC3</text></g>
<g id="n-SHC4" class="nd" transform="translate(889 958)"><circle r="19.5" fill="#f2d0c5" stroke="#ae897d"/><circle class="sh" r="18"/><text y="4.6">SHC4</text></g>
<g id="n-NCOR2" class="nd" transform="translate(941 1017)"><circle r="19.5" fill="#c9d7ee" stroke="#7d89a3"/><circle class="sh" r="18"/><text y="4.6">NCOR2</text></g>
<g id="n-FABP4" class="nd" transform="translate(1007 1062)"><circle r="19.5" fill="#d4e8cc" stroke="#89a37f"/><circle class="sh" r="18"/><text y="4.6">FABP4</text></g>
<g id="n-CHAC2" class="nd" transform="translate(832 1053)"><circle r="19.5" fill="#c4c2e4" stroke="#7d7ba3"/><circle class="sh" r="18"/><text y="4.6">CHAC2</text></g>
<g id="n-MGST1" class="nd" transform="translate(897 1115)"><circle r="19.5" fill="#d5cd96" stroke="#99915e"/><circle class="sh" r="18"/><text y="4.6">MGST1</text></g>
<g id="n-ADH1B" class="nd" transform="translate(959 1166)"><circle r="19.5" fill="#f0f2cc" stroke="#a7ab7b"/><circle class="sh" r="18"/><text y="4.6">ADH1B</text></g>
<g id="n-AOX1" class="nd" transform="translate(1026 1190)"><circle r="19.5" fill="#e0ecc8" stroke="#91a57b"/><circle class="sh" r="18"/><text y="4.6">AOX1</text></g>
<g id="n-DHRS9" class="nd" transform="translate(1080 1267)"><circle r="19.5" fill="#c4c2e4" stroke="#7d7ba3"/><circle class="sh" r="18"/><text y="4.6">DHRS9</text></g>
<g id="n-PLA2G2A" class="nd" transform="translate(527 1028)"><circle r="19.5" fill="#f4dcc0" stroke="#b39776"/><circle class="sh" r="18"/><text y="4.6">PLA2G2A</text></g>
<g id="n-PLA2G4F" class="nd" transform="translate(437 1094)"><circle r="19.5" fill="#c9d1ee" stroke="#7f87a7"/><circle class="sh" r="18"/><text y="4.6">PLA2G4F</text></g>
<g id="n-CHDH" class="nd" transform="translate(602 1097)"><circle r="19.5" fill="#f8dcc4" stroke="#ae8c70"/><circle class="sh" r="18"/><text y="4.6">CHDH</text></g>
<g id="n-AGTR1" class="nd" transform="translate(325 1075)"><circle r="19.5" fill="#c4c2e4" stroke="#7a78a2"/><circle class="sh" r="18"/><text y="4.6">AGTR1</text></g>
<g id="n-SSTR5" class="nd" transform="translate(306 1197)"><circle r="19.5" fill="#cad9ee" stroke="#8997ab"/><circle class="sh" r="18"/><text y="4.6">SSTR5</text></g>
<g id="n-PTDSS1" class="nd" transform="translate(479 1188)"><circle r="19.5" fill="#c4c2e4" stroke="#7a78a2"/><circle class="sh" r="18"/><text y="4.6">PTDSS1</text></g>
<g id="n-CD163" class="nd" transform="translate(648 1142)"><circle r="19.5" fill="#f4dcc5" stroke="#b3997f"/><circle class="sh" r="18"/><text y="4.6">CD163</text></g>
<g id="n-C1QB" class="nd" transform="translate(808 1151)"><circle r="19.5" fill="#d4e8cc" stroke="#85a07d"/><circle class="sh" r="18"/><text y="4.6">C1QB</text></g>
<g id="n-C3" class="nd" transform="translate(425 1248)"><circle r="19.5" fill="#d4e8c8" stroke="#809c72"/><circle class="sh" r="18"/><text y="4.6">C3</text></g>
<g id="n-VSIG4" class="nd" transform="translate(528 1243)"><circle r="19.5" fill="#dcecc8" stroke="#8da57b"/><circle class="sh" r="18"/><text y="4.6">VSIG4</text></g>
<g id="n-MS4A4A" class="nd" transform="translate(878 1278)"><circle r="19.5" fill="#d6ecdc" stroke="#89a58d"/><circle class="sh" r="18"/><text y="4.6">MS4A4A</text></g>
<g id="n-TFEC" class="nd" transform="translate(969 1269)"><circle r="19.5" fill="#d4eadc" stroke="#85a38b"/><circle class="sh" r="18"/><text y="4.6">TFEC</text></g>
<g id="n-PTX3" class="nd" transform="translate(358 1353)"><circle r="19.5" fill="#d6ece5" stroke="#89a393"/><circle class="sh" r="18"/><text y="4.6">PTX3</text></g>
<g id="n-C1R" class="nd" transform="translate(507 1348)"><circle r="19.5" fill="#d4e8c8" stroke="#809c72"/><circle class="sh" r="18"/><text y="4.6">C1R</text></g>
<g id="n-C1QC" class="nd" transform="translate(857 1374)"><circle r="19.5" fill="#f2f4d0" stroke="#a7ab7f"/><circle class="sh" r="18"/><text y="4.6">C1QC</text></g>
<g id="n-TUBA3E" class="nd" transform="translate(941 1346)"><circle r="19.5" fill="#d4eadf" stroke="#87a191"/><circle class="sh" r="18"/><text y="4.6">TUBA3E</text></g>
<g id="n-TUBB4A" class="nd" transform="translate(1070 1350)"><circle r="19.5" fill="#dcecc8" stroke="#8da57b"/><circle class="sh" r="18"/><text y="4.6">TUBB4A</text></g>
<g id="n-TUBA3D" class="nd" transform="translate(982 1456)"><circle r="19.5" fill="#d4eadf" stroke="#87a191"/><circle class="sh" r="18"/><text y="4.6">TUBA3D</text></g>
<g id="n-TUBA1C" class="nd" transform="translate(1110 1456)"><circle r="19.5" fill="#f4d0c5" stroke="#ae897d"/><circle class="sh" r="18"/><text y="4.6">TUBA1C</text></g>
<g id="n-CFAP77" class="nd" transform="translate(934 1537)"><circle r="19.5" fill="#f0f4cc" stroke="#a7ad7b"/><circle class="sh" r="18"/><text y="4.6">CFAP77</text></g>
<g id="n-FCN3" class="nd" transform="translate(466 1496)"><circle r="19.5" fill="#f2f0cc" stroke="#aba379"/><circle class="sh" r="18"/><text y="4.6">FCN3</text></g>
<g id="n-C1QA" class="nd" transform="translate(583 1521)"><circle r="19.5" fill="#cddcf0" stroke="#7d8fa5"/><circle class="sh" r="18"/><text y="4.6">C1QA</text></g>
<g id="n-MRC1" class="nd" transform="translate(859 1484)"><circle r="19.5" fill="#f4e2c8" stroke="#b39f7b"/><circle class="sh" r="18"/><text y="4.6">MRC1</text></g>
<g id="n-MARCO" class="nd" transform="translate(739 1526)"><circle r="19.5" fill="#c4c2e4" stroke="#7a78a2"/><circle class="sh" r="18"/><text y="4.6">MARCO</text></g>
</g>

<g id="caption">
<text class="cap" x="37" y="1608" font-size="13" font-weight="600" fill="#5a5a5a" textLength="49" lengthAdjust="spacingAndGlyphs">FIGURE 5</text>
<text class="cap" x="37" y="1628" font-size="17" fill="#555" textLength="1098" lengthAdjust="spacingAndGlyphs">Key gene PPI networks. <tspan font-weight="bold">(A)</tspan> PPI network based on the key upregulated genes. <tspan font-weight="bold">(B)</tspan> PPI network based on the downregulated genes.</text>
</g>
</svg>
